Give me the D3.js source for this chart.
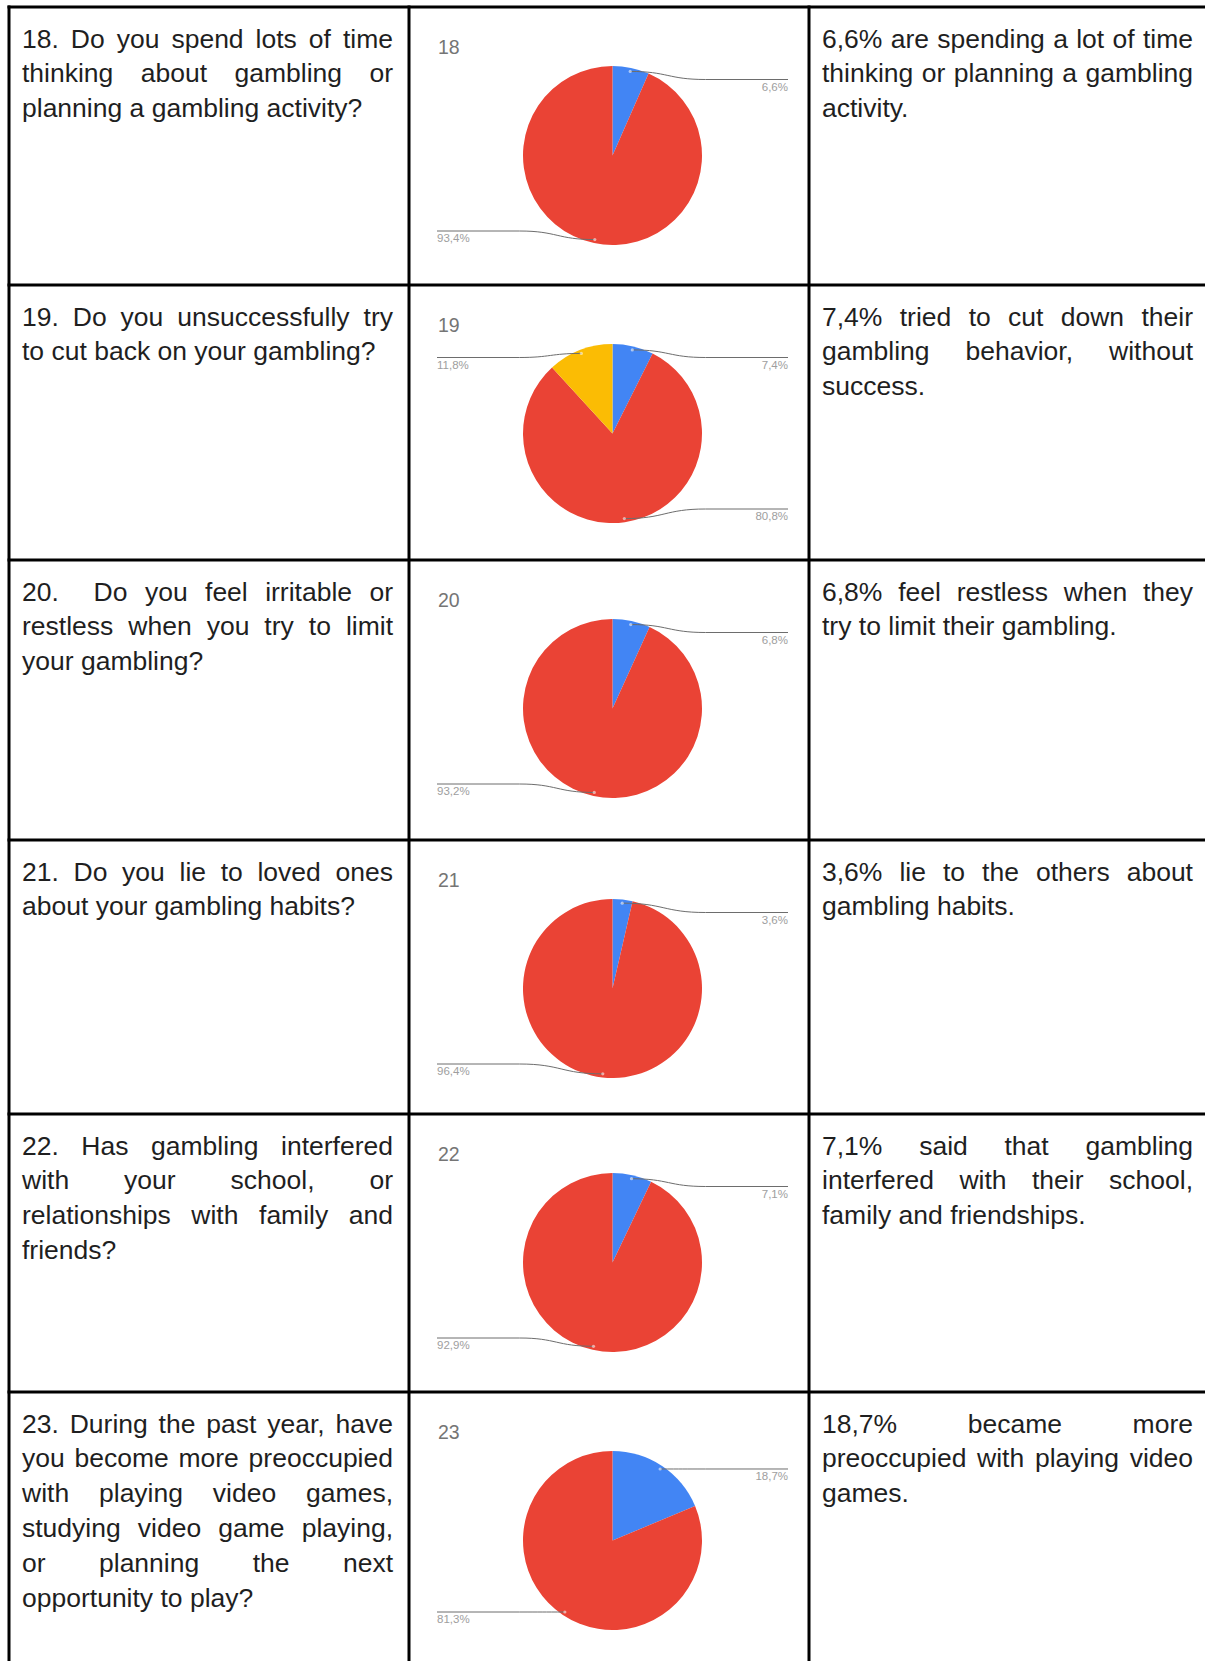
<!DOCTYPE html>
<html>
<head>
<meta charset="utf-8">
<script src="https://cdn.jsdelivr.net/npm/d3@7"></script>
<style>
  html, body { margin: 0; padding: 0; background: #ffffff; }
  svg { display: block; }
</style>
</head>
<body>
<script>
// ---------------- DATA ----------------
const questionIds = ["18", "19", "20", "21", "22", "23"];
const sliceNames = ["Yes", "No", "Sometimes"];
const blueShare = [6.6, 7.4, 6.8, 3.6, 7.1, 18.7];
const redShare = [93.4, 80.8, 93.2, 96.4, 92.9, 81.3];
const yellowShare = [0, 11.8, 0, 0, 0, 0];

const questionLines = [
  ["18. Do you spend lots of time", "thinking about gambling or", "planning a gambling activity?"],
  ["19. Do you unsuccessfully try", "to cut back on your gambling?"],
  ["20.  Do you feel irritable or", "restless when you try to limit", "your gambling?"],
  ["21. Do you lie to loved ones", "about your gambling habits?"],
  ["22. Has gambling interfered", "with your school, or", "relationships with family and", "friends?"],
  ["23. During the past year, have", "you become more preoccupied", "with playing video games,", "studying video game playing,", "or planning the next", "opportunity to play?"]
];
const findingLines = [
  ["6,6% are spending a lot of time", "thinking or planning a gambling", "activity."],
  ["7,4% tried to cut down their", "gambling behavior, without", "success."],
  ["6,8% feel restless when they", "try to limit their gambling."],
  ["3,6% lie to the others about", "gambling habits."],
  ["7,1% said that gambling", "interfered with their school,", "family and friendships."],
  ["18,7% became more", "preoccupied with playing video", "games."]
];

// ---------------- LAYOUT ----------------
const W = 1205, H = 1661;
const rowEdges = [7, 285, 560, 840, 1114, 1392, 1661];
const colEdges = [9, 409, 809, 1215];
const sliceColors = d3.scaleOrdinal().domain(sliceNames).range(["#4285f4", "#ea4335", "#fbbc04"]);
const FONT = "'Liberation Sans', Arial, Helvetica, sans-serif";
const FS = 26.5, LH = 34.8, FIRST = 40.5;
const textCols = [{ left: 22, right: 393 }, { left: 822, right: 1193 }];

const svg = d3.select("body").append("svg")
  .attr("width", W).attr("height", H)
  .attr("viewBox", `0 0 ${W} ${H}`);
svg.append("rect").attr("width", W).attr("height", H).attr("fill", "#fff");

const measure = svg.append("text")
  .attr("font-family", FONT).attr("font-size", FS)
  .attr("x", 100).attr("y", 100).attr("visibility", "hidden");
function widthOf(s) { measure.text(s); return measure.node().getComputedTextLength(); }
const spaceW = 0.278 * FS;

function drawParagraph(g, lines, left, right, top) {
  const avail = right - left;
  lines.forEach((line, i) => {
    const y = top + FIRST + i * LH;
    const justify = i < lines.length - 1;
    const t = g.append("text")
      .attr("font-family", FONT).attr("font-size", FS)
      .attr("fill", "#1f1f1f").attr("y", y);
    if (!justify) {
      t.attr("x", left).text(line);
      return;
    }
    const tokens = line.split(" ");
    const nSpaces = tokens.length - 1;
    const widths = tokens.map(tk => tk ? widthOf(tk) : 0);
    const natural = d3.sum(widths) + nSpaces * spaceW;
    const extra = nSpaces > 0 ? (avail - natural) / nSpaces : 0;
    let x = left;
    tokens.forEach((tk, j) => {
      if (tk) {
        t.append("tspan").attr("x", x).text(tk);
      }
      x += widths[j];
      if (j < tokens.length - 1) x += spaceW + extra;
    });
  });
}

const pie = d3.pie().sort(null).value(d => d.value);
const R = 89.5;
const arc = d3.arc().innerRadius(0).outerRadius(R);
const fmtPct = v => d3.format(".1f")(v).replace(".", ",") + "%";

questionIds.forEach((id, i) => {
  const top = rowEdges[i];
  const row = svg.append("g").attr("class", "row");

  drawParagraph(row, questionLines[i], textCols[0].left, textCols[0].right, top);
  drawParagraph(row, findingLines[i], textCols[1].left, textCols[1].right, top);

  // chart cell
  const cx = (colEdges[1] + colEdges[2]) / 2 + 3.5;
  const cy = top + 148.5;
  row.append("text")
    .attr("x", colEdges[1] + 29).attr("y", top + 47)
    .attr("font-family", FONT).attr("font-size", 19.5)
    .attr("fill", "#757575").text(id);

  const slices = [
    { name: sliceNames[0], value: blueShare[i] },
    { name: sliceNames[1], value: redShare[i] },
    { name: sliceNames[2], value: yellowShare[i] }
  ].filter(d => d.value > 0);
  const arcs = pie(slices);
  const pg = row.append("g").attr("transform", `translate(${cx},${cy})`);
  pg.selectAll("path").data(arcs).join("path")
    .attr("d", arc)
    .attr("fill", d => sliceColors(d.data.name));

  // leader lines and labels
  const rA = R * 0.96;
  const yMin = cy - 76, yMax = cy + 75.5;
  const rightEnd = colEdges[2] - 21, leftEnd = colEdges[1] + 28;
  const bendOff = 93;
  arcs.forEach(a => {
    const mid = (a.startAngle + a.endAngle) / 2;
    const ax = cx + rA * Math.sin(mid);
    const ay = cy - rA * Math.cos(mid);
    const right = Math.sin(mid) > 0;
    const ly = Math.max(yMin, Math.min(yMax, ay));
    const bx = right ? Math.max(cx + bendOff, ax) : Math.min(cx - bendOff, ax);
    const ex = right ? rightEnd : leftEnd;
    const mx = ax + (bx - ax) * 0.5;
    const path = d3.path();
    path.moveTo(ax, ay);
    path.bezierCurveTo(mx, ay, mx, ly, bx, ly);
    path.lineTo(ex, ly);
    row.append("path").attr("d", path.toString())
      .attr("fill", "none").attr("stroke", "#6d6d6d").attr("stroke-width", 1);
    row.append("circle").attr("cx", ax).attr("cy", ay).attr("r", 1.6)
      .attr("fill", "#ffffff").attr("opacity", 0.55);
    row.append("text")
      .attr("x", ex).attr("y", ly + 11)
      .attr("text-anchor", right ? "end" : "start")
      .attr("font-family", FONT).attr("font-size", 11.5)
      .attr("fill", "#9e9e9e")
      .text(fmtPct(a.data.value));
  });
});

measure.remove();

// ---------------- GRID ----------------
const grid = svg.append("g").attr("stroke", "#000").attr("stroke-width", 3);
rowEdges.slice(0, 6).forEach(y => {
  grid.append("line").attr("x1", colEdges[0] - 1.5).attr("x2", W).attr("y1", y).attr("y2", y);
});
colEdges.slice(0, 3).forEach(x => {
  grid.append("line").attr("x1", x).attr("x2", x).attr("y1", rowEdges[0] - 1.5).attr("y2", H);
});
</script>
</body>
</html>
